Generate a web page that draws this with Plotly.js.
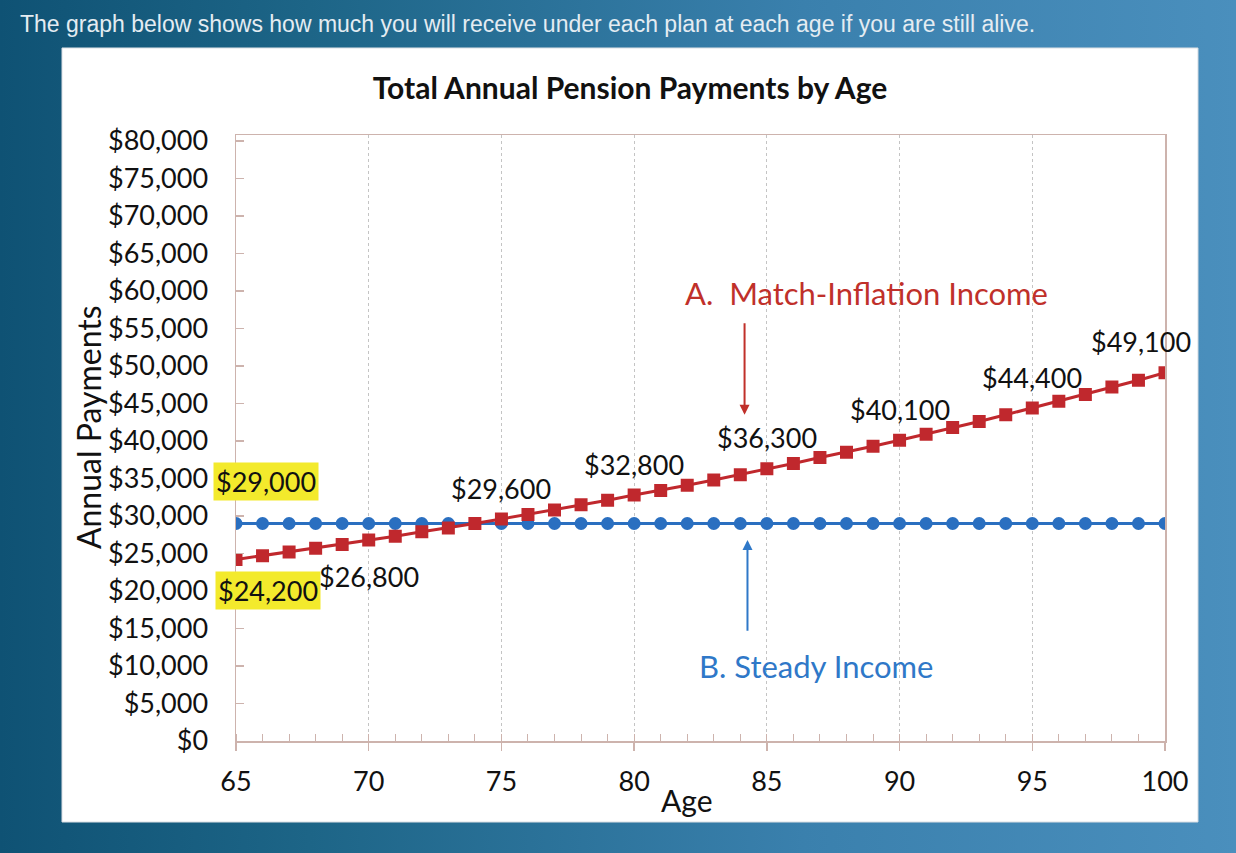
<!DOCTYPE html>
<html>
<head>
<meta charset="utf-8">
<script src="https://cdn.plot.ly/plotly-3.0.1.min.js"></script>
<style>
  html, body { margin: 0; padding: 0; width: 1236px; height: 853px; overflow: hidden; }
  body { background: linear-gradient(90deg, #0f5274 0%, #1d6587 25%, #3a80ad 65%, #4a8fbd 100%); }
  #chart { width: 1236px; height: 853px; }
</style>
</head>
<body>
<div id="chart"></div>
<script>
// ---- Data ----
const ages = [65,66,67,68,69,70,71,72,73,74,75,76,77,78,79,80,81,82,83,84,85,86,87,88,89,90,91,92,93,94,95,96,97,98,99,100];
const matchInflation = [24200,24700,25200,25700,26200,26800,27300,27900,28400,29000,29600,30200,30800,31500,32100,32800,33400,34100,34800,35500,36300,37000,37800,38500,39300,40100,40900,41800,42600,43500,44400,45300,46200,47200,48100,49100];
const steadyIncome = [29000,29000,29000,29000,29000,29000,29000,29000,29000,29000,29000,29000,29000,29000,29000,29000,29000,29000,29000,29000,29000,29000,29000,29000,29000,29000,29000,29000,29000,29000,29000,29000,29000,29000,29000,29000];
const labelAges = [70,75,80,85,90,95,100];
const yTickVals = [0,5000,10000,15000,20000,25000,30000,35000,40000,45000,50000,55000,60000,65000,70000,75000,80000];
const xTickVals = [65,70,75,80,85,90,95,100];

const RED = '#c0282d';
const BLUE = '#2a6fc0';
const FONT = 'Lato, "Open Sans", sans-serif';

function money(v) { return '$' + v.toLocaleString('en-US'); }

const traces = [
  {
    x: ages, y: steadyIncome, type: 'scatter', mode: 'lines+markers',
    line: {color: BLUE, width: 3},
    marker: {symbol: 'circle', size: 13, color: BLUE},
    hoverinfo: 'skip', showlegend: false
  },
  {
    x: ages, y: matchInflation, type: 'scatter', mode: 'lines+markers',
    line: {color: RED, width: 3},
    marker: {symbol: 'square', size: 13, color: RED},
    hoverinfo: 'skip', showlegend: false
  }
];

const annotations = [];
// top caption
annotations.push({
  xref: 'paper', yref: 'paper', x: -0.2347, y: 1.1832, xanchor: 'left', yanchor: 'middle',
  text: 'The graph below shows how much you will receive under each plan at each age if you are still alive.',
  showarrow: false, font: {family: '"Liberation Sans", Arial, sans-serif', size: 23, color: '#e4ecf2'}
});
// axis titles
annotations.push({
  xref: 'paper', yref: 'paper', x: -0.1593, y: 0.518, xanchor: 'center', yanchor: 'middle',
  text: 'Annual Payments', textangle: -90, showarrow: false, font: {family: FONT, size: 32, color: '#111'}
});
annotations.push({
  xref: 'paper', yref: 'paper', x: 0.4855, y: -0.0974, xanchor: 'center', yanchor: 'middle',
  text: 'Age', showarrow: false, font: {family: FONT, size: 30, color: '#111'}
});
// data labels on the match-inflation series
labelAges.forEach(function(a) {
  const v = matchInflation[ages.indexOf(a)];
  let xs = 0, ys = 31;
  if (a === 70) { ys = -36; }
  if (a === 100) { xs = -24; }
  annotations.push({
    x: a, y: v, xref: 'x', yref: 'y', text: money(v), showarrow: false,
    xshift: xs, yshift: ys, font: {family: FONT, size: 27, color: '#111'}
  });
});
// yellow highlight boxes at age 65
annotations.push({
  x: ages[0], y: steadyIncome[0], xref: 'x', yref: 'y', text: money(steadyIncome[0]), showarrow: false,
  xshift: 30, yshift: 42, bgcolor: '#f3ea2c', borderpad: 2, font: {family: FONT, size: 27, color: '#111'}
});
annotations.push({
  x: ages[0], y: matchInflation[0], xref: 'x', yref: 'y', text: money(matchInflation[0]), showarrow: false,
  xshift: 32, yshift: -31, bgcolor: '#f3ea2c', borderpad: 2, font: {family: FONT, size: 27, color: '#111'}
});
// series callouts
annotations.push({
  xref: 'x', yref: 'y', x: 88.77, y: 59700, text: 'A.&nbsp;&nbsp;Match-Inflation Income', showarrow: false,
  font: {family: FONT, size: 31, color: '#c0302a'}
});
annotations.push({
  xref: 'x', yref: 'y', x: 84.16, y: 43500, ax: 84.16, ay: 55900, axref: 'x', ayref: 'y', text: '',
  showarrow: true, arrowhead: 2, arrowsize: 1, arrowwidth: 2, arrowcolor: '#c0302a'
});
annotations.push({
  xref: 'x', yref: 'y', x: 86.85, y: 10000, text: 'B. Steady Income', showarrow: false,
  font: {family: FONT, size: 31, color: '#2f78c8'}
});
annotations.push({
  xref: 'x', yref: 'y', x: 84.27, y: 26800, ax: 84.27, ay: 14500, axref: 'x', ayref: 'y', text: '',
  showarrow: true, arrowhead: 2, arrowsize: 1, arrowwidth: 2, arrowcolor: '#2f78c8'
});

const layout = {
  width: 1236, height: 853,
  margin: {l: 236, r: 71, t: 135, b: 112, pad: 0},
  paper_bgcolor: 'rgba(0,0,0,0)',
  plot_bgcolor: 'rgba(0,0,0,0)',
  title: {
    text: '<b>Total Annual Pension Payments by Age</b>',
    x: 0.5097, xref: 'container', xanchor: 'center',
    y: 1 - 88/853, yref: 'container', yanchor: 'middle',
    font: {family: FONT, size: 30, color: '#111'}
  },
  xaxis: {
    range: [65, 100], tickvals: xTickVals, ticktext: xTickVals.map(String),
    showline: true, linecolor: '#cdb3ad', linewidth: 1.5, mirror: true,
    ticks: 'outside', ticklen: 8, tickcolor: '#cdb3ad', tickwidth: 1.5,
    minor: {dtick: 1, ticks: 'inside', ticklen: 7, tickcolor: '#cdb3ad', tickwidth: 1, showgrid: false},
    showgrid: true, gridcolor: '#c4c4c4', griddash: 'dot', gridwidth: 1.2,
    zeroline: false, ticklabelstandoff: 8,
    tickfont: {family: FONT, size: 27, color: '#111'}, fixedrange: true
  },
  yaxis: {
    range: [0, 80800], tickvals: yTickVals, ticktext: yTickVals.map(money),
    showline: true, linecolor: '#cdb3ad', linewidth: 1.5, mirror: true,
    ticks: 'inside', ticklen: 8, tickcolor: '#cdb3ad', tickwidth: 1.5,
    showgrid: false, zeroline: false, ticklabelstandoff: 21,
    tickfont: {family: FONT, size: 27, color: '#111'}, fixedrange: true
  },
  shapes: [
    {type: 'rect', xref: 'paper', yref: 'paper', x0: -0.1873, x1: 1.0355, y0: -0.1337, y1: 1.1436,
     fillcolor: '#ffffff', line: {width: 1, color: '#d8dde2'}, layer: 'below'}
  ],
  annotations: annotations
};

Plotly.newPlot('chart', traces, layout, {displayModeBar: false, staticPlot: true});
</script>
</body>
</html>
